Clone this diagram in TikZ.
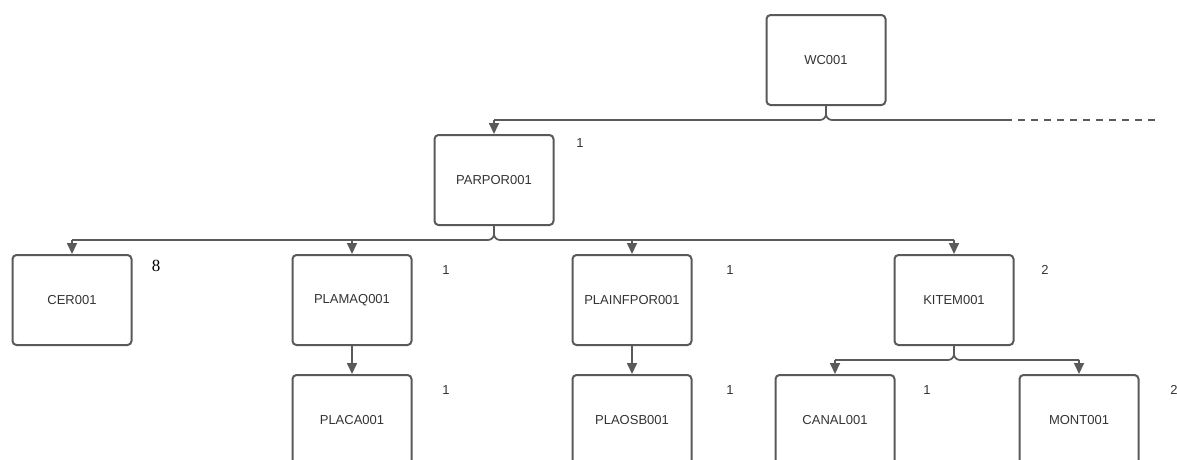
\documentclass[tikz,border=0pt]{standalone}
\usepackage{fontspec}
\setmainfont{Liberation Sans}
\newfontfamily\serifnum{Liberation Serif}
\usetikzlibrary{arrows.meta}
\definecolor{boxline}{HTML}{595959}
\definecolor{linkc}{HTML}{5A5A5A}
\definecolor{txtc}{HTML}{333333}
\tikzset{
  itembox/.style={draw=boxline, line width=2pt, rounded corners=4pt,
    minimum width=119pt, minimum height=90pt, inner sep=0pt,
    text=txtc, font=\fontsize{13}{15}\selectfont},
  qty/.style={text=txtc, font=\fontsize{13}{15}\selectfont, inner sep=0pt},
  link/.style={draw=linkc, line width=1.7pt},
  fork/.style={link, rounded corners=6pt},
  arr/.style={link, -{Triangle[length=11pt,width=10pt]}},
}
\begin{document}
\begin{tikzpicture}[x=1pt,y=-1pt]
  \useasboundingbox (0,0) rectangle (1177,459);
  \clip (0,0) rectangle (1177,459);

  % items
  \node[itembox] (wc)    at (826,60)  {WC001};
  \node[itembox] (par)   at (494,180) {PARPOR001};
  \node[itembox] (cer)   at (72,300)  {CER001};
  \node[itembox] (plamaq) at (352,300) {PLAMAQ001};
  \node[itembox] (plainf) at (632,300) {PLAINFPOR001};
  \node[itembox] (kitem) at (954,300) {KITEM001};
  \node[itembox] (placa) at (352,420) {PLACA001};
  \node[itembox] (plaosb) at (632,420) {PLAOSB001};
  \node[itembox] (canal) at (835,420) {CANAL001};
  \node[itembox] (mont)  at (1079,420) {MONT001};

  % quantities
  \node[qty] (qpar)    at (580,143) {1};
  \node[text=black, inner sep=0pt, font=\serifnum\fontsize{17}{19}\selectfont] (qcer) at (156,266) {8};
  \node[qty] (qplamaq) at (446,270) {1};
  \node[qty] (qplainf) at (730,270) {1};
  \node[qty] (qkitem)  at (1045,270) {2};
  \node[qty] (qplaca)  at (446,390) {1};
  \node[qty] (qplaosb) at (730,390) {1};
  \node[qty] (qcanal)  at (927,390) {1};
  \node[qty] (qmont)   at (1174,390) {2};

  % bus under WC001
  \coordinate (b1l) at (494,120);
  \coordinate (b1r) at (1005,120);
  \coordinate (b1e) at (1160,120);
  \draw[fork] (wc.south) |- (b1l);
  \draw[fork] (wc.south) |- (b1r);
  \draw[link, dash pattern=on 7pt off 6pt] (b1r) -- (b1e);
  \draw[arr] (b1l) -- (par.north);

  % bus under PARPOR001
  \coordinate (b2l) at (72,240);
  \coordinate (b2r) at (954,240);
  \draw[fork] (par.south) |- (b2l);
  \draw[fork] (par.south) |- (b2r);
  \draw[arr] (b2l) -- (cer.north);
  \draw[arr] (plamaq.north |- b2l) -- (plamaq.north);
  \draw[arr] (plainf.north |- b2l) -- (plainf.north);
  \draw[arr] (b2r) -- (kitem.north);

  % single links
  \draw[arr] (plamaq.south) -- (placa.north);
  \draw[arr] (plainf.south) -- (plaosb.north);

  % bus under KITEM001
  \coordinate (b3l) at (835,360);
  \coordinate (b3r) at (1079,360);
  \draw[fork] (kitem.south) |- (b3l);
  \draw[fork] (kitem.south) |- (b3r);
  \draw[arr] (b3l) -- (canal.north);
  \draw[arr] (b3r) -- (mont.north);
\end{tikzpicture}
\end{document}
